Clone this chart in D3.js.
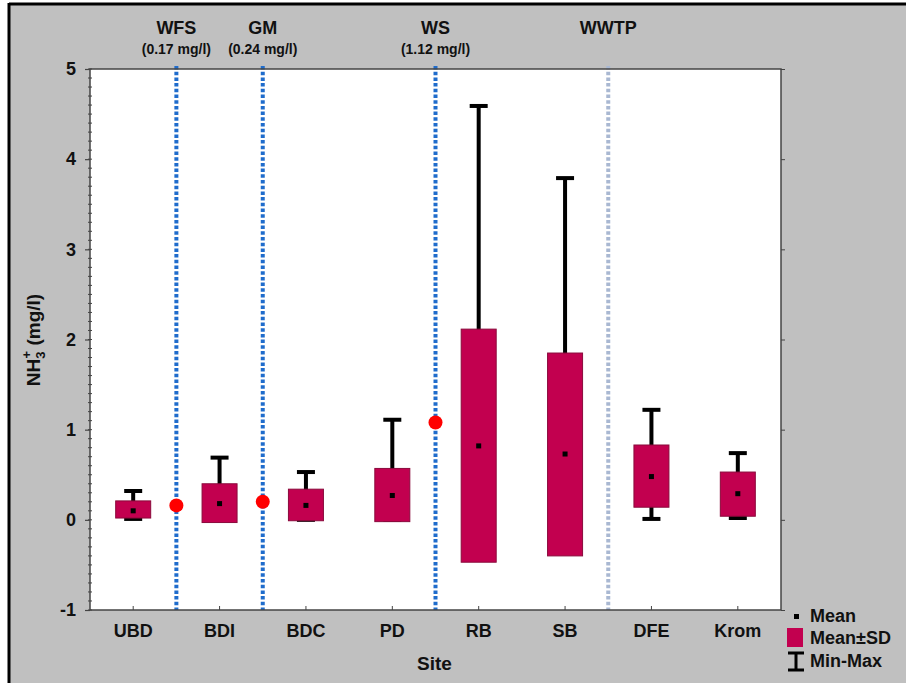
<!DOCTYPE html>
<html>
<head>
<meta charset="utf-8">
<script src="https://cdn.jsdelivr.net/npm/d3@7"></script>
<style>
  body { margin: 0; background: #fff; }
  text { font-family: "Liberation Sans", Arial, sans-serif; font-weight: bold; fill: #111; }
</style>
</head>
<body>
<svg id="chart"></svg>
<script>
var svg = d3.select("#chart");

var svgWidth = 906,
    svgHeight = 683,
    margin = {top: 69, right: 125, bottom: 73, left: 90},
    width = svgWidth - margin.left - margin.right,
    height = svgHeight - margin.top - margin.bottom;

// data
var sites   = ["UBD", "BDI", "BDC", "PD", "RB", "SB", "DFE", "Krom"];
var means   = [0.10, 0.18, 0.16, 0.27, 0.82, 0.73, 0.48, 0.29];
var sdLow   = [0.02, -0.03, -0.01, -0.02, -0.47, -0.40, 0.14, 0.04];
var sdHigh  = [0.21, 0.40, 0.34, 0.57, 2.115, 1.85, 0.83, 0.53];
var mins    = [0.01, 0.00, 0.00, 0.00, 0.00, 0.00, 0.01, 0.02];
var maxs    = [0.32, 0.69, 0.53, 1.11, 4.59, 3.79, 1.22, 0.74];

// guideline limits drawn between sites
var limitNames  = ["WFS", "GM", "WS", "WWTP"];
var limitLabels = ["(0.17 mg/l)", "(0.24 mg/l)", "(1.12 mg/l)", ""];
var limitAfter  = [0, 1, 3, 5];          // index of site left of the line
var limitValues = [0.16, 0.20, 1.08, null];

var yTicks = [-1, 0, 1, 2, 3, 4, 5];

svg.attr("width", svgWidth).attr("height", svgHeight);

// grey background + black frame on top/left
svg.append("rect").attr("x", 9).attr("y", 4).attr("width", svgWidth).attr("height", svgHeight)
    .attr("fill", "#c0c0c0");
svg.append("line").attr("x1", 9).attr("x2", svgWidth).attr("y1", 4).attr("y2", 4)
    .attr("stroke", "#000").attr("stroke-width", 3);
svg.append("line").attr("x1", 9).attr("x2", 9).attr("y1", 3).attr("y2", svgHeight)
    .attr("stroke", "#000").attr("stroke-width", 3);

var xScale = d3.scaleBand().domain(sites).range([margin.left, margin.left + width]).padding(0);
var yScale = d3.scaleLinear().domain([-1, 5]).range([margin.top + height, margin.top]);

var boxW = 35, capW = 18;

// plot area
svg.append("rect")
    .attr("x", margin.left).attr("y", margin.top)
    .attr("width", width).attr("height", height)
    .attr("fill", "#fff");

// minor ticks on the left axis
var minor = d3.range(-1, 5.001, 0.1);
svg.append("g").selectAll("line").data(minor).enter().append("line")
    .attr("x1", margin.left - 2).attr("x2", margin.left + 2)
    .attr("y1", function(d){ return yScale(d); })
    .attr("y2", function(d){ return yScale(d); })
    .attr("stroke", "#444").attr("stroke-width", 1);

// left axis
var yAxis = d3.axisLeft(yScale).tickValues(yTicks).tickSize(5).tickPadding(9)
    .tickFormat(function(d){ return String(d); });
var gy = svg.append("g")
    .attr("transform", "translate(" + margin.left + ",0)")
    .call(yAxis);
gy.select(".domain").remove();
gy.selectAll("line").attr("stroke", "#444").attr("stroke-width", 1.2);
gy.selectAll("text").style("font-size", "18px").style("font-family", "Liberation Sans, Arial, sans-serif")
    .style("font-weight", "bold").attr("fill", "#111");

// right axis ticks
var gr = svg.append("g")
    .attr("transform", "translate(" + (margin.left + width) + ",0)")
    .call(d3.axisRight(yScale).tickValues(yTicks).tickSize(4).tickFormat(""));
gr.select(".domain").remove();
gr.selectAll("line").attr("stroke", "#444");

// bottom axis
var gx = svg.append("g")
    .attr("transform", "translate(0," + (margin.top + height) + ")")
    .call(d3.axisBottom(xScale).tickSize(-4).tickPadding(14));
gx.select(".domain").remove();
gx.selectAll("line").attr("stroke", "#444");
gx.selectAll("text").style("font-size", "18px").style("font-family", "Liberation Sans, Arial, sans-serif")
    .style("font-weight", "bold").attr("fill", "#111");

// limit lines
limitAfter.forEach(function(idx, i){
    var x = xScale(sites[idx]) + xScale.bandwidth();
    svg.append("line")
        .attr("x1", x).attr("x2", x)
        .attr("y1", margin.top - 3).attr("y2", margin.top + height)
        .attr("stroke", limitNames[i] == "WWTP" ? "#a9b8d2" : "#1f6ccc")
        .attr("stroke-width", 4)
        .attr("stroke-dasharray", "3.5,2.2");
    svg.append("text")
        .text(limitNames[i])
        .attr("x", x).attr("y", 34)
        .attr("text-anchor", "middle")
        .style("font-size", "18px");
    if (limitLabels[i] != "") {
        svg.append("text")
            .text(limitLabels[i])
            .attr("x", x).attr("y", 54)
            .attr("text-anchor", "middle")
            .style("font-size", "14px");
    }
});

// frame
svg.append("rect")
    .attr("x", margin.left).attr("y", margin.top)
    .attr("width", width).attr("height", height)
    .attr("fill", "none").attr("stroke", "#444").attr("stroke-width", 1.5);

// whiskers
var cx = function(i){ return xScale(sites[i]) + xScale.bandwidth() / 2; };
var wg = svg.append("g");
sites.forEach(function(s, i){
    wg.append("line")
        .attr("x1", cx(i)).attr("x2", cx(i))
        .attr("y1", yScale(maxs[i])).attr("y2", yScale(mins[i]))
        .attr("stroke", "#000").attr("stroke-width", 4);
    [maxs[i], mins[i]].forEach(function(v){
        wg.append("line")
            .attr("x1", cx(i) - capW / 2).attr("x2", cx(i) + capW / 2)
            .attr("y1", yScale(v)).attr("y2", yScale(v))
            .attr("stroke", "#000").attr("stroke-width", 4);
    });
});

// mean +- sd boxes
svg.append("g").selectAll("rect").data(sites).enter().append("rect")
    .attr("x", function(d, i){ return cx(i) - boxW / 2; })
    .attr("y", function(d, i){ return yScale(sdHigh[i]); })
    .attr("width", boxW)
    .attr("height", function(d, i){ return yScale(sdLow[i]) - yScale(sdHigh[i]); })
    .attr("fill", "#c2004f")
    .attr("stroke", "#8a0a3c").attr("stroke-width", 1);

// means
svg.append("g").selectAll("rect").data(sites).enter().append("rect")
    .attr("x", function(d, i){ return cx(i) - 2.5; })
    .attr("y", function(d, i){ return yScale(means[i]) - 2.5; })
    .attr("width", 5).attr("height", 5)
    .attr("fill", "#000");

// guideline values (red dots)
limitAfter.forEach(function(idx, i){
    if (limitValues[i] == null) return;
    svg.append("circle")
        .attr("cx", xScale(sites[idx]) + xScale.bandwidth())
        .attr("cy", yScale(limitValues[i]))
        .attr("r", 7)
        .attr("fill", "#ff0000");
});

// axis titles
svg.append("text")
    .attr("x", margin.left + width / 2 - 1).attr("y", 670)
    .attr("text-anchor", "middle")
    .style("font-size", "19px")
    .text("Site");

var yt = svg.append("text")
    .attr("transform", "translate(40,340) rotate(-90)")
    .attr("text-anchor", "middle")
    .style("font-size", "19px");
yt.append("tspan").text("NH");
yt.append("tspan").text("3").attr("dy", 5).style("font-size", "13px");
yt.append("tspan").text("+").attr("dy", -14).attr("dx", -7).style("font-size", "13px");
yt.append("tspan").text(" (mg/l)").attr("dy", 9);

// legend
var lg = svg.append("g");
lg.append("rect").attr("x", 794).attr("y", 614).attr("width", 5).attr("height", 5).attr("fill", "#000");
lg.append("text").text("Mean").attr("x", 810).attr("y", 622).style("font-size", "18px");
lg.append("rect").attr("x", 787).attr("y", 628).attr("width", 16).attr("height", 19).attr("fill", "#c2004f");
lg.append("text").text("Mean±SD").attr("x", 810).attr("y", 644).style("font-size", "18px");
lg.append("line").attr("x1", 796).attr("x2", 796).attr("y1", 652).attr("y2", 671)
    .attr("stroke", "#000").attr("stroke-width", 3);
lg.append("line").attr("x1", 788).attr("x2", 804).attr("y1", 653).attr("y2", 653)
    .attr("stroke", "#000").attr("stroke-width", 3);
lg.append("line").attr("x1", 788).attr("x2", 804).attr("y1", 670).attr("y2", 670)
    .attr("stroke", "#000").attr("stroke-width", 3);
lg.append("text").text("Min-Max").attr("x", 810).attr("y", 667).style("font-size", "18px");
</script>
</body>
</html>
